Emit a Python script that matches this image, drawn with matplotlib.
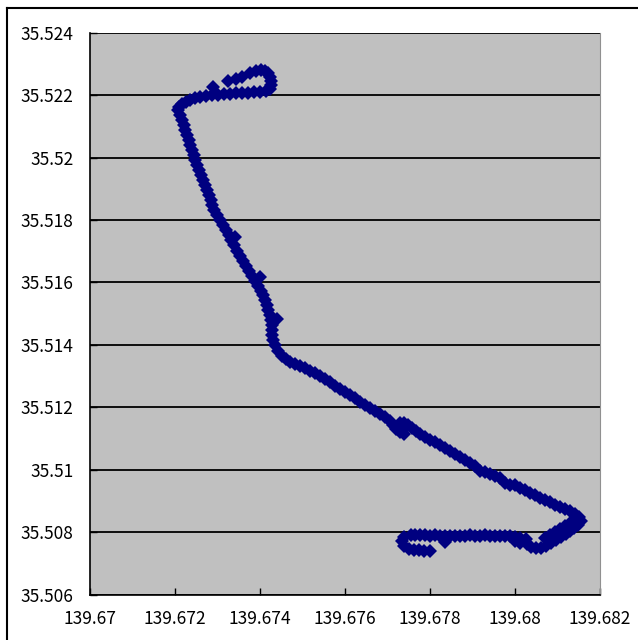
import matplotlib
matplotlib.use("Agg")
import numpy as np
import matplotlib.pyplot as plt
from matplotlib.lines import Line2D

plt.rcParams['font.family'] = ['Noto Sans CJK JP', 'DejaVu Sans']

# GPS track, in pieces (longitude, latitude)
# top loop
lon_loop = [139.67289, 139.67325, 139.67344, 139.67358, 139.67376, 139.67391, 139.67402,
            139.67412, 139.67419, 139.67424, 139.67426, 139.67426, 139.67424,
            139.67414, 139.67400, 139.67386, 139.67372, 139.67358, 139.67344, 139.67329,
            139.67315, 139.67301, 139.67287, 139.67273, 139.67259, 139.67247, 139.67235,
            139.67226, 139.67216, 139.67209, 139.67207]
lat_loop = [35.52226, 35.52245, 35.52251, 35.52258, 35.52271, 35.52277, 35.52280,
            35.52277, 35.52271, 35.52258, 35.52245, 35.52232, 35.52219,
            35.52213, 35.52210, 35.52210, 35.52206, 35.52206, 35.52206, 35.52203,
            35.52203, 35.52200, 35.52200, 35.52197, 35.52194, 35.52190, 35.52184,
            35.52178, 35.52171, 35.52162, 35.52152]

# long stretch going south
lon_north = [139.67212, 139.67216, 139.67221, 139.67224, 139.67228, 139.67233, 139.67235,
             139.67240, 139.67245, 139.67247, 139.67252, 139.67256, 139.67261, 139.67266,
             139.67271, 139.67275, 139.67280, 139.67285, 139.67287, 139.67292, 139.67299,
             139.67306, 139.67313, 139.67320, 139.67327, 139.67332, 139.67339, 139.67346,
             139.67353, 139.67360, 139.67367, 139.67374, 139.67381, 139.67388, 139.67395,
             139.67402, 139.67407, 139.67412, 139.67416, 139.67419, 139.67424, 139.67426,
             139.67428, 139.67428, 139.67428, 139.67431, 139.67435, 139.67442, 139.67452,
             139.67461, 139.67341, 139.67400, 139.67440]
lat_north = [35.52136, 35.52120, 35.52104, 35.52088, 35.52072, 35.52056, 35.52040,
             35.52023, 35.52007, 35.51991, 35.51975, 35.51959, 35.51943, 35.51927,
             35.51911, 35.51895, 35.51879, 35.51863, 35.51847, 35.51831, 35.51815,
             35.51799, 35.51783, 35.51767, 35.51751, 35.51735, 35.51719, 35.51702,
             35.51686, 35.51670, 35.51654, 35.51638, 35.51622, 35.51606, 35.51590,
             35.51574, 35.51558, 35.51542, 35.51526, 35.51510, 35.51494, 35.51478,
             35.51462, 35.51446, 35.51430, 35.51414, 35.51398, 35.51381, 35.51365,
             35.51356, 35.51747, 35.51616, 35.51484]

# diagonal stretch to the south-east
lon_east = [139.67471, 139.67482, 139.67494, 139.67506, 139.67518, 139.67529, 139.67541,
            139.67553, 139.67565, 139.67576, 139.67588, 139.67600, 139.67612, 139.67624,
            139.67635, 139.67647, 139.67659, 139.67671, 139.67682, 139.67694, 139.67706,
            139.67713, 139.67720, 139.67729, 139.67739, 139.67729, 139.67739, 139.67748,
            139.67758, 139.67767, 139.67776, 139.67788, 139.67800, 139.67812, 139.67824,
            139.67835, 139.67847, 139.67859, 139.67871, 139.67882, 139.67894, 139.67906,
            139.67918, 139.67929, 139.67941, 139.67953, 139.67965, 139.67976, 139.67988,
            139.68000, 139.68012, 139.68024, 139.68035, 139.68047, 139.68059, 139.68071,
            139.68082, 139.68094, 139.68106, 139.68118, 139.68129, 139.68141, 139.68151,
            139.68155]
lat_east = [35.51346, 35.51340, 35.51333, 35.51327, 35.51317, 35.51311, 35.51301,
            35.51292, 35.51282, 35.51269, 35.51259, 35.51250, 35.51240, 35.51231,
            35.51218, 35.51208, 35.51198, 35.51189, 35.51179, 35.51170, 35.51157,
            35.51144, 35.51131, 35.51121, 35.51115, 35.51150, 35.51150, 35.51144,
            35.51134, 35.51125, 35.51115, 35.51105, 35.51096, 35.51089, 35.51080,
            35.51070, 35.51060, 35.51051, 35.51041, 35.51031, 35.51022, 35.51012,
            35.50996, 35.50993, 35.50987, 35.50980, 35.50974, 35.50958, 35.50951,
            35.50951, 35.50942, 35.50935, 35.50926, 35.50919, 35.50909, 35.50903,
            35.50897, 35.50887, 35.50881, 35.50874, 35.50868, 35.50858, 35.50848,
            35.50836]

# return leg and the stretch heading west at the bottom
lon_south = [139.68148, 139.68139, 139.68129, 139.68120, 139.68108, 139.68096, 139.68085,
             139.68073, 139.68061, 139.68049, 139.68038,
             139.68141, 139.68129, 139.68118, 139.68106, 139.68094, 139.68082, 139.68071,
             139.68026, 139.68012, 139.68000, 139.67988, 139.67976, 139.67965, 139.67953,
             139.67941, 139.67929, 139.67918, 139.67906, 139.67894, 139.67882, 139.67871,
             139.67859, 139.67847, 139.67835, 139.67824, 139.67812, 139.67800, 139.67788,
             139.67776, 139.67765, 139.67755, 139.67835, 139.68000, 139.68012, 139.68028,
             139.67739, 139.67734, 139.67739, 139.67751, 139.67762, 139.67774, 139.67786,
             139.67800]
lat_south = [35.50823, 35.50813, 35.50804, 35.50794, 35.50784, 35.50775, 35.50765,
             35.50755, 35.50749, 35.50749, 35.50752,
             35.50839, 35.50829, 35.50820, 35.50810, 35.50800, 35.50791, 35.50781,
             35.50778, 35.50781, 35.50784, 35.50787, 35.50787, 35.50787, 35.50787,
             35.50787, 35.50791, 35.50787, 35.50787, 35.50791, 35.50787, 35.50787,
             35.50787, 35.50787, 35.50787, 35.50787, 35.50791, 35.50787, 35.50791,
             35.50791, 35.50791, 35.50791, 35.50768, 35.50771, 35.50765, 35.50762,
             35.50784, 35.50771, 35.50755, 35.50746, 35.50743, 35.50743, 35.50739,
             35.50739]

xticks = [139.67, 139.672, 139.674, 139.676, 139.678, 139.68, 139.682]
xlabels = ['139.67', '139.672', '139.674', '139.676', '139.678', '139.68', '139.682']
yticks = [35.506, 35.508, 35.51, 35.512, 35.514, 35.516, 35.518, 35.52, 35.522, 35.524]
ylabels = ['35.506', '35.508', '35.51', '35.512', '35.514', '35.516', '35.518', '35.52', '35.522', '35.524']

lon = lon_loop + lon_north + lon_east + lon_south
lat = lat_loop + lat_north + lat_east + lat_south

fig = plt.figure(figsize=(6.38, 6.40), dpi=100)
ax = fig.add_axes([90/638, 1 - 594.5/640, 510/638, 561.8/640])
ax.set_facecolor('#C0C0C0')

for y in yticks:
    ax.axhline(y, color='black', lw=1.3, zorder=1)

ax.plot(lon, lat, linestyle='none', marker='D', markersize=7.4,
        color='#000080', markeredgewidth=0, zorder=3)

ax.set_xlim(139.67, 139.682)
ax.set_ylim(35.506, 35.524)
ax.set_xticks(xticks)
ax.set_xticklabels(xlabels)
ax.set_yticks(yticks)
ax.set_yticklabels(ylabels)
ax.tick_params(axis='both', direction='in', length=5, width=1, labelsize=12.5, color='black')
ax.tick_params(axis='x', pad=11)
ax.tick_params(axis='y', pad=12)

ax.spines['top'].set_visible(False)
ax.spines['right'].set_color('#909090')
ax.spines['left'].set_linewidth(1.2)
ax.spines['bottom'].set_linewidth(1.2)

# outer chart frame (cut off at right and bottom)
fig.add_artist(Line2D([7/638, 1], [1 - 8/640, 1 - 8/640], color='black', lw=1.5))
fig.add_artist(Line2D([7/638, 7/638], [0, 1 - 8/640], color='black', lw=1.5))

fig.savefig('out.png', dpi=100)
